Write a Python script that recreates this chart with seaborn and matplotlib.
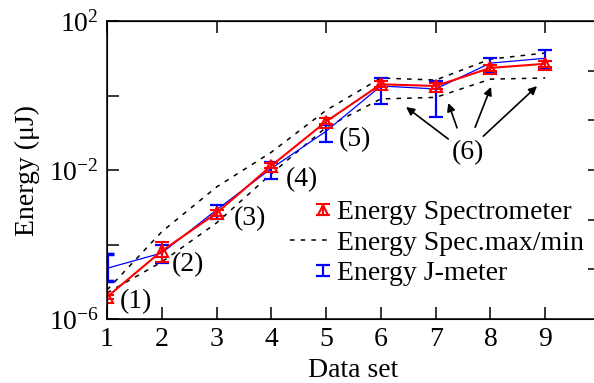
import numpy as np
import pandas as pd
import matplotlib
matplotlib.use('Agg')
import matplotlib.pyplot as plt
import seaborn as sns
from matplotlib.legend_handler import HandlerErrorbar

# Datos (escala log, uJ)
data_set = [1, 2, 3, 4, 5, 6, 7, 8, 9]
spec = [3.9e-6, 6.7e-5, 7.0e-4, 1.3e-2, 0.20, 2.0, 1.8, 5.5, 7.1]
spec_lo = [3.4e-6, 3.4e-5, 5.8e-4, 1.1e-2, 0.17, 1.7, 1.5, 4.6, 6.0]
spec_hi = [4.5e-6, 1.17e-4, 8.5e-4, 1.55e-2, 0.25, 2.4, 2.2, 6.6, 8.5]
spec_max = [6.0e-6, 2.2e-4, 3.5e-3, 3.0e-2, 0.40, 2.95, 2.6, 9.5, 13.8]
spec_min = [5.0e-6, 3.4e-5, 3.8e-4, 7.9e-3, 0.14, 0.81, 0.89, 2.75, 2.95]
jmeter = [2.3e-5, 5.9e-5, 8.5e-4, 1.1e-2, 0.11, 1.8, 1.5, 7.4, 10.0]
jmeter_lo = [1.05e-5, 3.2e-5, 4.8e-4, 5.8e-3, 0.056, 0.59, 0.26, 4.0, 5.5]
jmeter_hi = [5.5e-5, 9.8e-5, 1.15e-3, 1.6e-2, 0.16, 2.95, 2.45, 10.0, 16.6]

tag_text = ['(1)', '(2)', '(3)', '(4)', '(5)', '(6)']
tag_x = [1.52, 2.48, 3.61, 4.56, 5.53, 7.59]
tag_y = [2.9e-6, 2.8e-5, 5.1e-4, 5.4e-3, 6.5e-2, 3.0e-2]

# flechas de (6): cola -> punta
arrow_tail_x = [7.23, 7.39, 7.72, 7.87]
arrow_tail_y = [6.8e-2, 0.135, 0.14, 8.1e-2]
arrow_head_x = [6.46, 7.23, 8.01, 8.85]
arrow_head_y = [0.49, 0.63, 1.7, 1.78]

df = pd.DataFrame({'set': data_set, 'spec': spec, 'max': spec_max,
                   'min': spec_min, 'jm': jmeter})


class RightErrorbar(HandlerErrorbar):
    # marcador a la derecha del hueco, como en gnuplot
    def get_xdata(self, legend, xdescent, ydescent, width, height, fontsize):
        xdata, xm = super().get_xdata(legend, xdescent, ydescent, width, height, fontsize)
        return xdata, [width * 0.9 - xdescent]


sns.set_style('ticks')
plt.rcParams['font.family'] = ['Liberation Serif', 'DejaVu Serif']
plt.rcParams['mathtext.fontset'] = 'custom'
plt.rcParams['mathtext.rm'] = 'Liberation Serif'
plt.rcParams['font.size'] = 20
for k in ['text.color', 'axes.labelcolor', 'xtick.color', 'ytick.color', 'axes.edgecolor']:
    plt.rcParams[k] = 'black'

fig = plt.figure(figsize=(5.94, 3.83), dpi=100)
ax = fig.add_axes([107 / 594, 64 / 383, 493 / 594, 298 / 383])
ax.set_yscale('log')

# lineas max/min
sns.lineplot(data=df, x='set', y='max', color='black', lw=1.1, ax=ax)
ax.lines[-1].set_dashes((3, 4))
sns.lineplot(data=df, x='set', y='min', color='black', lw=1.1, ax=ax)
ax.lines[-1].set_dashes((3, 4))
dash_handle = ax.lines[-1]

# J-meter
sns.lineplot(data=df, x='set', y='jm', color='blue', lw=0.9, ax=ax)
jm = np.array(jmeter)
jm_err = [jm - np.array(jmeter_lo), np.array(jmeter_hi) - jm]
blue = ax.errorbar(data_set, jmeter, yerr=jm_err, fmt='none', ecolor='blue',
                   elinewidth=1.6, capsize=5, capthick=1.6, zorder=3)
ax.errorbar(data_set[:1], jmeter[:1], yerr=[jm_err[0][:1], jm_err[1][:1]],
            fmt='none', ecolor='blue', elinewidth=3, capsize=5, capthick=2.5, zorder=3)

# espectrometro
sns.lineplot(data=df, x='set', y='spec', color='red', lw=1.5, ax=ax, zorder=4)
sp = np.array(spec)
red = ax.errorbar(data_set, spec, yerr=[sp - np.array(spec_lo), np.array(spec_hi) - sp],
                  fmt='^', color='red', mfc='none', mec='red', ms=9, mew=1.5,
                  elinewidth=1.5, capsize=5, capthick=1.5, zorder=5)

for t, x, y in zip(tag_text, tag_x, tag_y):
    ax.text(x, y, t, ha='center', va='center', fontsize=20)
for tx, ty, hx, hy in zip(arrow_tail_x, arrow_tail_y, arrow_head_x, arrow_head_y):
    ax.annotate('', xy=(hx, hy), xytext=(tx, ty),
                arrowprops=dict(arrowstyle='-|>', color='black', lw=1.2,
                                mutation_scale=12, shrinkA=0, shrinkB=0))

ax.set_xlim(1, 10)
ax.set_ylim(1e-6, 1e2)
ax.set_xticks(data_set)
ax.set_xticklabels([str(v) for v in data_set])
ax.set_yticks([1e-6, 1e-4, 1e-2, 1, 1e2])
ax.set_yticklabels([r'$\mathregular{10^{-6}}$', '', r'$\mathregular{10^{-2}}$', '',
                    r'$\mathregular{10^{2}}$'])
ax.minorticks_off()
ax.tick_params(direction='in', length=8.6, width=1.1, labelsize=20, pad=6,
               top=False, right=False)
ax.set_xlabel('Data set', fontsize=20, labelpad=4)
ax.set_ylabel('Energy (μJ)', fontsize=20, labelpad=6)
for s in ax.spines.values():
    s.set_linewidth(1.1)

top = ax.secondary_xaxis('top')
top.set_xticks([1, 3, 5, 7, 9])
top.set_xticklabels([])
top.tick_params(direction='in', length=8.6, width=1.1)

right = ax.twinx()
right.set_ylim(0, 6)
right.set_yticks([1, 2, 3, 4, 5])
right.set_yticklabels([])
right.tick_params(direction='in', length=8.6, width=1.1)

leg = ax.legend([red, dash_handle, blue],
                ['Energy Spectrometer', 'Energy Spec.max/min', 'Energy J-meter'],
                loc='upper left', bbox_to_anchor=(290 / 594, 1 - 200 / 383),
                bbox_transform=fig.transFigure, frameon=False, fontsize=20,
                handlelength=1.33, handletextpad=0.36, labelspacing=0.18,
                borderpad=0, borderaxespad=0, markerscale=0.75,
                handler_map={type(red): RightErrorbar(xerr_size=0.2, yerr_size=0.2)})
leg.set_zorder(6)

fig.savefig('out.png', dpi=100)
